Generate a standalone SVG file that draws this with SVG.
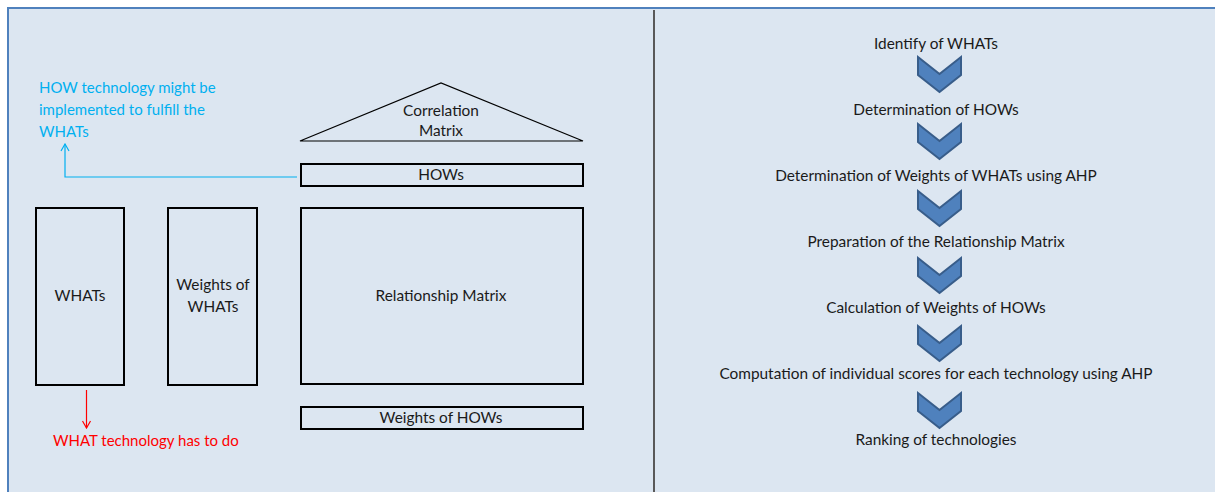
<svg xmlns="http://www.w3.org/2000/svg" width="1215" height="492" viewBox="0 0 1215 492">
  <style>
    text { font-family: Lato, "Open Sans", "Liberation Sans", sans-serif; font-size: 15.4px; fill: #1a1a1a; }
    .mid { text-anchor: middle; }
    .note { font-size: 15px; }
    .box { fill: none; stroke: #000; stroke-width: 2; }
    .tri { fill: none; stroke: #000; stroke-width: 1.2; }
    .how { fill: #00B0F0; }
    .what { fill: #FF0000; }
    .chev { fill: #4F81BD; stroke: #385D8A; stroke-width: 2; stroke-linejoin: miter; }
  </style>
  <defs>
    <marker id="openCyan" viewBox="0 0 10 10" refX="9" refY="5" markerWidth="10" markerHeight="10" markerUnits="userSpaceOnUse" orient="auto">
      <path d="M2,1 L9,5 L2,9" fill="none" stroke="#00B0F0" stroke-width="1.2"/>
    </marker>
    <marker id="openRed" viewBox="0 0 10 10" refX="9" refY="5" markerWidth="10" markerHeight="10" markerUnits="userSpaceOnUse" orient="auto">
      <path d="M2,1 L9,5 L2,9" fill="none" stroke="#FF0000" stroke-width="1.2"/>
    </marker>
    <polygon id="chevron" points="-21.5,0 0,17 21.5,0 21.5,18 0,35 -21.5,18"/>
  </defs>

  <!-- panel background and frame -->
  <rect x="0" y="0" width="1215" height="492" fill="#ffffff"/>
  <rect x="8" y="8" width="1215" height="492" fill="#DCE6F1" stroke="#4F81BD" stroke-width="2"/>
  <line x1="654" y1="10" x2="654" y2="492" stroke="#595959" stroke-width="2"/>

  <!-- house of quality -->
  <g id="correlation-matrix">
    <polygon class="tri" points="300,141 441,83 583,141"/>
    <text class="mid" x="441" y="116">Correlation</text>
    <text class="mid" x="441" y="136">Matrix</text>
  </g>
  <g id="hows">
    <rect class="box" x="301" y="164" width="282" height="22"/>
    <text class="mid" x="441" y="180">HOWs</text>
  </g>
  <g id="whats">
    <rect class="box" x="36" y="208" width="88" height="177"/>
    <text class="mid" x="80" y="301">WHATs</text>
  </g>
  <g id="weights-of-whats">
    <rect class="box" x="168" y="208" width="89" height="177"/>
    <text class="mid" x="213" y="290">Weights of</text>
    <text class="mid" x="213" y="312">WHATs</text>
  </g>
  <g id="relationship-matrix">
    <rect class="box" x="301" y="208" width="282" height="176"/>
    <text class="mid" x="441" y="301">Relationship Matrix</text>
  </g>
  <g id="weights-of-hows">
    <rect class="box" x="301" y="407" width="282" height="22"/>
    <text class="mid" x="441" y="423">Weights of HOWs</text>
  </g>

  <!-- annotations -->
  <g id="how-note">
    <text class="how note" x="39" y="93">HOW technology might be</text>
    <text class="how note" x="39" y="115">implemented to fulfill the</text>
    <text class="how note" x="39" y="137">WHATs</text>
  </g>
  <g id="what-note">
    <text class="what note" x="53" y="446">WHAT technology has to do</text>
  </g>

  <g id="connectors">
    <polyline points="297,177 65,177 65,144" fill="none" stroke="#00B0F0" stroke-width="1.2" marker-end="url(#openCyan)"/>
    <line x1="86.5" y1="390" x2="86.5" y2="428" stroke="#FF0000" stroke-width="1.2" marker-end="url(#openRed)"/>
  </g>

  <!-- procedure steps -->
  <g id="step-1"><text class="mid" x="936" y="49">Identify of WHATs</text></g>
  <g id="step-2"><text class="mid" x="936" y="115">Determination of HOWs</text></g>
  <g id="step-3"><text class="mid" x="936" y="181">Determination of Weights of WHATs using AHP</text></g>
  <g id="step-4"><text class="mid" x="936" y="247">Preparation of the Relationship Matrix</text></g>
  <g id="step-5"><text class="mid" x="936" y="313">Calculation of Weights of HOWs</text></g>
  <g id="step-6"><text class="mid" x="936" y="379">Computation of individual scores for each technology using AHP</text></g>
  <g id="step-7"><text class="mid" x="936" y="445">Ranking of technologies</text></g>

  <g id="step-arrows">
    <use class="chev" href="#chevron" x="939.5" y="57"/>
    <use class="chev" href="#chevron" x="939.5" y="124"/>
    <use class="chev" href="#chevron" x="939.5" y="191"/>
    <use class="chev" href="#chevron" x="939.5" y="258"/>
    <use class="chev" href="#chevron" x="939.5" y="326"/>
    <use class="chev" href="#chevron" x="939.5" y="393"/>
  </g>
</svg>
